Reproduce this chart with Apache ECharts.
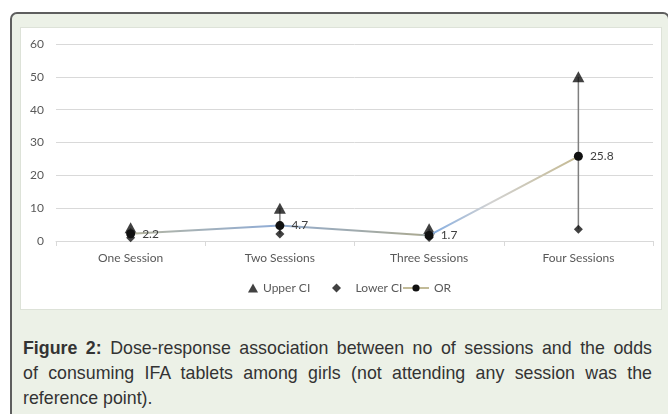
<!DOCTYPE html>
<html>
<head>
<meta charset="utf-8">
<script src="https://cdn.jsdelivr.net/npm/echarts@6/dist/echarts.min.js"></script>
<style>
  html, body { margin: 0; padding: 0; background: #fff; width: 668px; height: 414px; overflow: hidden; }
  #panel {
    position: absolute; left: 10px; top: 12px; width: 660px; height: 420px;
    box-sizing: border-box; border: 2px solid #5e5e5e; border-radius: 7px;
    background: #ecf1e7;
  }
  #main {
    position: absolute; left: 21px; top: 28px; width: 640px; height: 281px;
    background: #fff; box-shadow: 0 0 0 1px #dde2d8;
  }
  #caption {
    position: absolute; left: 23px; top: 336px; width: 629px;
    font-family: "Liberation Sans", Arial, sans-serif; font-size: 17.8px; line-height: 25px; color: #333;
  }
  #caption div { white-space: nowrap; }
  #caption .j { text-align: justify; text-align-last: justify; }
</style>
</head>
<body>
<div id="panel"></div>
<div id="main"></div>
<div id="caption">
  <div class="j"><b>Figure 2:</b> Dose-response association between no of sessions and the odds</div>
  <div class="j">of consuming IFA tablets among girls (not attending any session was the</div>
  <div>reference point).</div>
</div>
<script>
var categories = ['One Session', 'Two Sessions', 'Three Sessions', 'Four Sessions'];
var upperCI = [4.0, 10.0, 3.7, 50.0];
var lowerCI = [1.0, 2.1, 1.1, 3.6];
var oddsRatio = [2.2, 4.7, 1.7, 25.8];

var chart = echarts.init(document.getElementById('main'));
var FONT = 'Lato';
var TRI = 'path://M5,0 L10,9 L0,9 Z';
var DIA = 'path://M5,0 L10,5 L5,10 L0,5 Z';
var legendText = { fontFamily: FONT, fontSize: 12, color: '#595959' };

var option = {
  animation: false,
  grid: { left: 35, right: 8, top: 16, bottom: 68 },
  legend: [
    {
      bottom: 15,
      left: 227,
      padding: 0,
      itemWidth: 10,
      itemHeight: 9,
      textStyle: legendText,
      data: [{ name: 'Upper CI', icon: TRI }]
    },
    {
      bottom: 15,
      left: 311,
      padding: 0,
      itemWidth: 10,
      itemHeight: 9,
      textStyle: Object.assign({ padding: [0, 0, 0, 9] }, legendText),
      data: [{ name: 'Lower CI', icon: DIA }]
    },
    {
      bottom: 15,
      left: 381,
      padding: 0,
      itemWidth: 26,
      itemHeight: 9,
      textStyle: legendText,
      data: [
        { name: 'OR', itemStyle: { color: '#111' }, lineStyle: { color: '#c2bb98', width: 2 } }
      ]
    }
  ],
  xAxis: {
    type: 'category',
    data: categories,
    axisLine: { lineStyle: { color: '#d9d9d9' } },
    axisTick: { show: true, length: 5, lineStyle: { color: '#d9d9d9' } },
    axisLabel: { fontFamily: FONT, fontSize: 12, color: '#595959', margin: 11 }
  },
  yAxis: {
    type: 'value',
    min: 0, max: 60, interval: 10,
    axisLine: { show: false },
    axisTick: { show: false },
    splitLine: { lineStyle: { color: '#d9d9d9' } },
    axisLabel: { fontFamily: FONT, fontSize: 12, color: '#595959', margin: 12 }
  },
  series: [
    {
      name: 'HiLo',
      type: 'custom',
      silent: true,
      z: 1,
      renderItem: function (params, api) {
        var p1 = api.coord([api.value(0), api.value(1)]);
        var p2 = api.coord([api.value(0), api.value(2)]);
        return {
          type: 'line',
          shape: { x1: p1[0], y1: p1[1], x2: p2[0], y2: p2[1] },
          style: { stroke: '#7f7f7f', lineWidth: 1.5 }
        };
      },
      data: categories.map(function (c, i) { return [i, lowerCI[i], upperCI[i]]; })
    },
    {
      name: 'Upper CI',
      type: 'scatter',
      symbol: 'triangle',
      symbolSize: [12, 11],
      z: 3,
      itemStyle: { color: '#111' },
      data: upperCI
    },
    {
      name: 'Lower CI',
      type: 'scatter',
      symbol: 'diamond',
      symbolSize: 9,
      z: 3,
      itemStyle: { color: '#111' },
      data: lowerCI
    },
    {
      name: 'OR',
      type: 'line',
      symbol: 'circle',
      symbolSize: 9,
      z: 4,
      itemStyle: { color: '#111' },
      lineStyle: {
        width: 2,
        color: {
          type: 'linear', x: 0, y: 0, x2: 1, y2: 0,
          colorStops: [
            { offset: 0, color: '#b6b59d' },
            { offset: 0.31, color: '#92add4' },
            { offset: 0.64, color: '#aaa993' },
            { offset: 0.68, color: '#8ab0e0' },
            { offset: 0.8, color: '#d2d2d2' },
            { offset: 1, color: '#c4b990' }
          ]
        }
      },
      label: {
        show: true,
        position: 'right',
        distance: 7,
        fontFamily: FONT,
        fontSize: 12,
        color: '#404040'
      },
      data: oddsRatio
    }
  ]
};
chart.setOption(option);
</script>
</body>
</html>
